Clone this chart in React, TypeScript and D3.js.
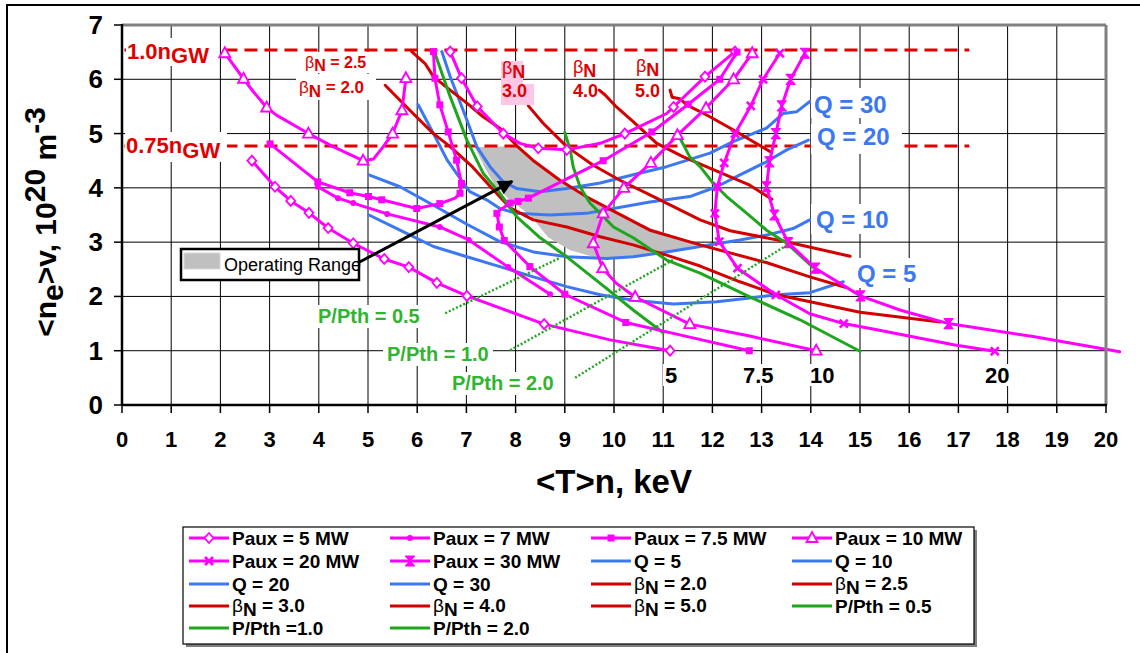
import React from "react";
import * as d3 from "d3";

type Pt = number[]; // [<T>n keV, <ne> 1e20 m^-3, marker flag]

// ---------- axes ----------
const xTickValues: number[] = d3.range(0, 21);
const yTickValues: number[] = d3.range(0, 8);

// ---------- auxiliary power contours (Paux, MW) ----------
const paux5Low: Pt[] = [
  [2.64, 4.5, 1], [3.11, 4.02, 1], [3.43, 3.76, 1], [3.8, 3.54, 1], [4.19, 3.26, 1],
  [4.7, 2.98, 1], [5.33, 2.69, 1], [5.83, 2.54, 1], [6.4, 2.25, 1], [7.01, 2.01, 1],
  [8.58, 1.49, 1], [9.92, 1.2], [11.14, 1.0, 1],
];
const paux5High: Pt[] = [
  [6.67, 6.51, 1], [6.9, 6.02, 1], [7.22, 5.5, 1], [7.75, 5.0, 1], [8.09, 4.82],
  [8.46, 4.73, 1], [9.04, 4.7, 1], [9.72, 4.82], [10.22, 5.0, 1], [11.07, 5.37],
  [11.21, 5.49, 1], [11.85, 6.05, 1], [12.46, 6.51, 1],
];
const paux7: Pt[] = [
  [3.98, 4.02, 1], [4.39, 3.81, 1], [4.7, 3.72, 1], [5.39, 3.52, 1], [6.46, 3.28, 1],
  [7.05, 3.04, 1], [7.85, 2.54, 1], [8.7, 2.04, 1],
];
const paux75Left: Pt[] = [
  [3.01, 4.81, 1], [3.98, 4.11, 1], [4.63, 3.91, 1], [5.01, 3.84, 1], [5.28, 3.78, 1],
  [5.99, 3.62, 1], [6.46, 3.71, 1], [6.77, 3.81], [6.87, 3.9, 1], [6.9, 4.08, 1],
  [6.8, 4.51, 1], [6.63, 5.03, 1], [6.46, 5.53, 1], [6.36, 6.02, 1], [6.33, 6.51, 1],
];
const paux75Right: Pt[] = [
  [12.5, 6.5, 1], [12.15, 6.0, 1], [11.51, 5.54, 1], [10.77, 5.03, 1], [9.78, 4.5, 1],
  [8.26, 3.81, 1], [8.05, 3.75, 1], [7.89, 3.72, 1], [7.68, 3.59], [7.62, 3.53, 1],
  [7.67, 3.28, 1], [7.77, 3.03, 1], [8.29, 2.55, 1], [9.0, 2.04, 1], [10.24, 1.52, 1],
  [11.54, 1.25], [12.75, 1.0, 1],
];
const paux10Left: Pt[] = [
  [2.09, 6.48, 1], [2.47, 6.01, 1], [2.67, 5.77], [2.94, 5.48, 1], [3.14, 5.34],
  [3.79, 5.0, 1], [4.29, 4.76], [4.9, 4.5, 1], [5.11, 4.53], [5.31, 4.76],
  [5.5, 5.0, 1], [5.69, 5.43, 1], [5.77, 6.02, 1],
];
const paux10Right: Pt[] = [
  [12.81, 6.48, 1], [12.43, 6.0, 1], [11.87, 5.47, 1], [11.29, 4.97, 1], [10.75, 4.46, 1],
  [10.2, 4.0, 1], [9.78, 3.53, 1], [9.58, 2.98, 1], [9.77, 2.52, 1], [10.05, 2.24],
  [10.43, 1.99, 1], [11.54, 1.49, 1], [12.76, 1.27], [14.11, 1.0, 1],
];
const paux20: Pt[] = [
  [13.37, 6.48, 1], [13.03, 6.0, 1], [12.78, 5.51, 1], [12.46, 5.0, 1], [12.24, 4.46, 1],
  [12.1, 4.02, 1], [12.05, 3.53, 1], [12.14, 3.01, 1], [12.51, 2.52, 1], [13.29, 2.03, 1],
  [13.98, 1.68], [14.67, 1.5, 1], [15.37, 1.38], [16.9, 1.11], [17.74, 0.99, 1],
];
const paux30: Pt[] = [
  [13.88, 6.48, 1], [13.59, 6.0, 1], [13.41, 5.51, 1], [13.29, 5.0, 1], [13.16, 4.48, 1],
  [13.1, 4.02, 1], [13.26, 3.5, 1], [13.54, 2.99, 1], [14.09, 2.52, 1], [15.01, 2.01, 1],
  [15.81, 1.75], [16.8, 1.5, 1], [18.52, 1.26], [20.28, 0.98],
];

// ---------- fusion gain contours ----------
const q5: Pt[] = [
  [5.02, 3.5], [5.65, 3.22], [6.33, 2.92], [7.01, 2.73], [7.68, 2.55], [8.36, 2.36],
  [9.04, 2.18], [9.72, 2.03], [10.39, 1.93], [11.21, 1.86], [12.09, 1.9], [12.76, 1.97],
  [13.31, 2.03], [13.98, 2.07], [14.66, 2.27],
];
const q10: Pt[] = [
  [5.02, 4.24], [5.65, 4.02], [6.33, 3.68], [7.01, 3.33], [7.68, 3.01], [8.36, 2.82],
  [9.04, 2.73], [9.85, 2.7], [10.39, 2.73], [11.07, 2.82], [11.75, 2.92], [12.15, 2.98],
  [12.56, 3.04], [13.1, 3.13], [13.64, 3.25], [13.98, 3.41],
];
const q20: Pt[] = [
  [6.02, 5.53], [6.33, 5.0], [6.61, 4.51], [6.9, 4.14], [7.07, 3.93], [7.41, 3.78],
  [7.68, 3.62], [8.02, 3.53], [8.7, 3.5], [9.44, 3.53], [9.99, 3.62], [10.73, 3.74],
  [11.54, 3.84], [12.09, 4.02], [12.56, 4.24], [13.1, 4.48], [13.51, 4.7], [13.95, 4.88],
];
const q30: Pt[] = [
  [6.5, 6.51], [6.67, 6.05], [7.01, 5.25], [7.21, 4.76], [7.48, 4.39], [7.75, 4.11],
  [8.02, 3.99], [8.5, 3.93], [9.04, 3.99], [9.72, 4.09], [10.39, 4.24], [11.07, 4.39],
  [11.95, 4.64], [12.42, 4.85], [13.1, 5.1], [13.44, 5.37], [13.71, 5.4], [13.98, 5.59],
];

// ---------- normalised beta contours ----------
const beta20: Pt[] = [
  [5.35, 5.89], [5.85, 5.43], [6.33, 5.0], [6.67, 4.76], [7.13, 4.38], [7.48, 4.03],
  [7.89, 3.63], [8.36, 3.41], [9.04, 3.28], [9.72, 3.1], [10.39, 2.95], [11.07, 2.76],
  [11.75, 2.56], [12.56, 2.27], [13.31, 2.03], [15.0, 1.71], [16.63, 1.53],
];
const beta25: Pt[] = [
  [5.89, 6.51], [6.16, 6.29], [6.33, 6.05], [6.67, 5.8], [7.01, 5.56], [7.34, 5.31],
  [7.68, 5.1], [8.03, 4.77], [8.35, 4.51], [8.9, 4.14], [9.45, 3.83], [10.06, 3.54],
  [10.73, 3.22], [11.75, 2.95], [13.11, 2.62], [13.98, 2.36], [14.7, 2.17],
];
const beta30: Pt[] = [
  [8.26, 5.51], [8.56, 5.19], [9.04, 4.76], [9.57, 4.42], [10.12, 4.14], [10.73, 3.87],
  [11.75, 3.41], [12.36, 3.21], [13.43, 3.02], [14.8, 2.74],
];
const beta40: Pt[] = [
  [9.7, 5.8], [9.82, 5.71], [10.05, 5.49], [10.39, 5.22], [10.87, 4.82], [11.41, 4.57],
  [12.09, 4.31], [12.76, 4.05], [13.21, 3.79],
];
const beta50: Pt[] = [
  [11.14, 5.8], [11.18, 5.67], [11.34, 5.64], [11.48, 5.53], [11.95, 5.31], [12.42, 5.07],
  [13.17, 4.67],
];

// ---------- power over L-H threshold ----------
const pPth05: Pt[] = [
  [6.36, 6.48], [6.67, 5.68], [7.01, 4.88], [7.34, 4.27], [7.68, 3.9], [8.02, 3.47],
  [8.5, 3.08], [9.04, 2.73], [9.72, 2.24], [10.39, 1.75], [11.0, 1.33],
];
const pPth10: Pt[] = [
  [9.0, 5.02], [9.11, 4.7], [9.17, 4.39], [9.31, 4.02], [9.51, 3.72], [9.72, 3.53],
  [9.99, 3.28], [10.39, 3.08], [11.07, 2.67], [11.75, 2.43], [12.76, 1.99], [13.78, 1.57],
  [15.0, 0.99],
];
const pPth20: Pt[] = [
  [11.31, 4.97], [11.54, 4.57], [11.75, 4.39], [12.02, 4.08], [12.29, 3.84], [12.7, 3.53],
  [13.1, 3.22], [13.51, 2.98], [14.04, 2.54],
];
// leaders from the P/Pth labels to their curves
const pPth05Leader: Pt[] = [[6.57, 1.69], [8.9, 2.71]];
const pPth10Leader: Pt[] = [[7.89, 1.01], [11.2, 2.67]];
const pPth20Leader: Pt[] = [[9.21, 0.5], [13.52, 2.95]];

// ---------- operating window ----------
const operatingRange: Pt[] = [
  [7.17, 4.75], [8.03, 4.77], [8.35, 4.51], [8.9, 4.14], [9.45, 3.83], [10.06, 3.53],
  [10.73, 3.26], [11.75, 2.96], [11.0, 2.8], [10.26, 2.71], [9.65, 2.71], [9.11, 2.85],
  [8.66, 3.09], [8.29, 3.5], [7.89, 3.77], [7.58, 4.05], [7.38, 4.36],
];
const arrowTail: Pt = [4.8, 2.62];
const arrowHead: Pt = [7.93, 4.12];

// ---------- Greenwald density limits ----------
const greenwaldDensity: number[] = [6.54, 4.77];
const greenwaldSpan: number[] = [0.05, 17.22];

const FONT = "'Liberation Sans', Arial, Helvetica, sans-serif";
const MAGENTA = "#ff00ff";
const BLUE = "#3c78f2";
const RED = "#d20000";
const LABEL_RED = "#e00000";
const GREEN = "#1fa61f";
const LABEL_GREEN = "#2fb52f";

type Series = {
  name: string;
  beta?: string;
  color: string;
  marker?: string;
  segments: Pt[][];
};

const series: Series[] = [
  { name: "Paux = 5 MW", color: MAGENTA, marker: "diamond", segments: [paux5Low, paux5High] },
  { name: "Paux = 7 MW", color: MAGENTA, marker: "circle", segments: [paux7] },
  { name: "Paux = 7.5 MW", color: MAGENTA, marker: "square", segments: [paux75Left, paux75Right] },
  { name: "Paux = 10 MW", color: MAGENTA, marker: "triangle", segments: [paux10Left, paux10Right] },
  { name: "Paux = 20 MW", color: MAGENTA, marker: "cross", segments: [paux20] },
  { name: "Paux = 30 MW", color: MAGENTA, marker: "star", segments: [paux30] },
  { name: "Q = 5", color: BLUE, segments: [q5] },
  { name: "Q = 10", color: BLUE, segments: [q10] },
  { name: "Q = 20", color: BLUE, segments: [q20] },
  { name: "Q = 30", color: BLUE, segments: [q30] },
  { name: "", beta: "2.0", color: RED, segments: [beta20] },
  { name: "", beta: "2.5", color: RED, segments: [beta25] },
  { name: "", beta: "3.0", color: RED, segments: [beta30] },
  { name: "", beta: "4.0", color: RED, segments: [beta40] },
  { name: "", beta: "5.0", color: RED, segments: [beta50] },
  { name: "P/Pth = 0.5", color: GREEN, segments: [pPth05] },
  { name: "P/Pth =1.0", color: GREEN, segments: [pPth10] },
  { name: "P/Pth = 2.0", color: GREEN, segments: [pPth20] },
];

function markerShape(kind: string, cx: number, cy: number, color: string, key: string) {
  switch (kind) {
    case "diamond":
      return (
        <path key={key} d={`M${cx},${cy - 5}L${cx + 4.5},${cy}L${cx},${cy + 5}L${cx - 4.5},${cy}Z`}
          fill="#fff" stroke={color} strokeWidth={1.8} />
      );
    case "circle":
      return <circle key={key} cx={cx} cy={cy} r={3} fill={color} />;
    case "square":
      return <rect key={key} x={cx - 3.5} y={cy - 3.5} width={7} height={7} fill={color} />;
    case "triangle":
      return (
        <path key={key} d={`M${cx},${cy - 6}L${cx + 5.5},${cy + 4}L${cx - 5.5},${cy + 4}Z`}
          fill="#fff" stroke={color} strokeWidth={1.8} />
      );
    case "cross":
      return (
        <path key={key} d={`M${cx - 4},${cy - 4}L${cx + 4},${cy + 4}M${cx - 4},${cy + 4}L${cx + 4},${cy - 4}`}
          stroke={color} strokeWidth={2.6} fill="none" />
      );
    case "star":
      return (
        <path key={key} d={`M${cx - 4.5},${cy - 5}L${cx + 4.5},${cy - 5}L${cx - 4.5},${cy + 5}L${cx + 4.5},${cy + 5}Z`}
          fill={color} stroke={color} strokeWidth={1.2} strokeLinejoin="round" />
      );
    default:
      return null;
  }
}

function BetaText(props: { x: number; y: number; value: string; size: number; color: string; sub?: number }) {
  const { x, y, value, size, color } = props;
  const sub = props.sub ?? 6;
  return (
    <text x={x} y={y} fontSize={size} fill={color} fontWeight="bold">
      <tspan fontWeight="normal">β</tspan>
      <tspan dy={sub}>N</tspan>
      <tspan dy={-sub}>{` = ${value}`}</tspan>
    </text>
  );
}

export default function App() {
  const x = d3.scaleLinear().domain([0, 20]).range([122, 1106]);
  const y = d3.scaleLinear().domain([0, 7]).range([405, 25]);
  const line = d3.line<Pt>().x((d) => x(d[0])).y((d) => y(d[1]));

  const legendCols = [189, 390, 591, 792];
  const legendRows = [538, 561, 584, 606, 628];

  return (
    <div style={{ position: "absolute", left: 0, top: 0 }}>
      <svg width={1140} height={653} fontFamily={FONT} style={{ display: "block", background: "#fff" }}>
        <defs>
          <marker id="arrowhead" viewBox="0 0 10 10" refX={9} refY={5} markerWidth={6} markerHeight={5}
            orient="auto" markerUnits="strokeWidth">
            <path d="M0,0L10,5L0,10Z" fill="#000" />
          </marker>
        </defs>
        <rect x={0} y={0} width={1140} height={653} fill="#fff" />
        {/* chart frame */}
        <path d="M7,653L7,5L1140,5" fill="none" stroke="#000" strokeWidth={2} />

        {/* grid */}
        <g stroke="#000" strokeWidth={1}>
          {xTickValues.map((t) => (
            <line key={`gx${t}`} x1={x(t)} x2={x(t)} y1={y(7)} y2={y(0)} />
          ))}
          {yTickValues.map((t) => (
            <line key={`gy${t}`} x1={x(0)} x2={x(20)} y1={y(t)} y2={y(t)} />
          ))}
        </g>

        {/* operating window */}
        <path d={line(operatingRange) + "Z"} fill="#c0c0c0" stroke="none" />

        {/* Greenwald limits */}
        {greenwaldDensity.map((n, i) => (
          <line key={`gw${i}`} x1={x(greenwaldSpan[0])} x2={x(greenwaldSpan[1])} y1={y(n)} y2={y(n)}
            stroke="#e00000" strokeWidth={3} strokeDasharray="13,7" />
        ))}

        {/* contour curves: Q, beta, P/Pth first, Paux on top */}
        {[...series.slice(6), ...series.slice(0, 6)].map((s, si) => (
          <g key={`s${si}`}>
            {s.segments.map((seg, gi) => (
              <path key={`p${gi}`} d={line(seg) || ""} fill="none" stroke={s.color} strokeWidth={3}
                strokeLinejoin="round" strokeLinecap="round" />
            ))}
            {s.marker &&
              s.segments.map((seg, gi) =>
                seg.filter((d) => d[2] === 1).map((d, k) => markerShape(s.marker as string, x(d[0]), y(d[1]), s.color, `m${gi}-${k}`))
              )}
          </g>
        ))}

        {/* leaders for P/Pth labels */}
        {[pPth05Leader, pPth10Leader, pPth20Leader].map((l, i) => (
          <path key={`ld${i}`} d={line(l) || ""} stroke={GREEN} strokeWidth={2.4} strokeDasharray="2,2" fill="none" />
        ))}

        {/* Greenwald labels */}
        <rect x={126} y={38} width={92} height={28} fill="#fff" />
        <text x={127} y={59} fontSize={22} fontWeight="bold" fill={LABEL_RED}>
          1.0n<tspan dy={4}>GW</tspan>
        </text>
        <rect x={125} y={132} width={102} height={30} fill="#fff" />
        <text x={126} y={153} fontSize={22} fontWeight="bold" fill={LABEL_RED}>
          0.75n<tspan dy={5}>GW</tspan>
        </text>

        {/* beta labels */}
        <rect x={302} y={52} width={74} height={21} fill="#fff" />
        <BetaText x={305} y={68} value="2.5" size={16} color={LABEL_RED} sub={3} />
        <rect x={296} y={74} width={80} height={26} fill="#fff" />
        <BetaText x={299} y={93} value="2.0" size={17} color={LABEL_RED} sub={4} />

        <rect x={501} y={61} width={22} height={23} fill="#ffc6e6" />
        <rect x={501} y={84} width={33} height={21} fill="#ffc6e6" />
        {[
          { bx: 502, by: 74, vx: 502, vy: 97, v: "3.0" },
          { bx: 573, by: 73, vx: 573, vy: 97, v: "4.0" },
          { bx: 636, by: 72, vx: 635, vy: 97, v: "5.0" },
        ].map((b) => (
          <g key={b.v} fill={LABEL_RED} fontSize={18} fontWeight="bold">
            <text x={b.bx} y={b.by}>
              <tspan fontWeight="normal">β</tspan>
              <tspan dy={4}>N</tspan>
            </text>
            <text x={b.vx} y={b.vy}>{b.v}</text>
          </g>
        ))}

        {/* Q labels */}
        {[
          { t: "Q = 30", x: 814, y: 113, rx: 811, ry: 88, rw: 82 },
          { t: "Q = 20", x: 817, y: 145, rx: 811, ry: 124, rw: 91 },
          { t: "Q = 10", x: 816, y: 228, rx: 811, ry: 204, rw: 84 },
          { t: "Q = 5", x: 857, y: 282, rx: 852, ry: 258, rw: 70 },
        ].map((q) => (
          <g key={q.t}>
            <rect x={q.rx} y={q.ry} width={q.rw} height={30} fill="#fff" />
            <text x={q.x} y={q.y} fontSize={24} fontWeight="bold" fill={BLUE}>{q.t}</text>
          </g>
        ))}

        {/* P/Pth labels */}
        {[
          { t: "P/Pth = 0.5", x: 318, y: 323 },
          { t: "P/Pth = 1.0", x: 387, y: 361 },
          { t: "P/Pth = 2.0", x: 452, y: 390 },
        ].map((p) => (
          <g key={p.t}>
            <rect x={p.x - 4} y={p.y - 18} width={110} height={23} fill="#fff" />
            <text x={p.x} y={p.y} fontSize={20} fontWeight="bold" fill={LABEL_GREEN}>{p.t}</text>
          </g>
        ))}

        {/* Paux value labels */}
        {[
          { t: "5", x: 665 },
          { t: "7.5", x: 743 },
          { t: "10", x: 810 },
          { t: "20", x: 985 },
        ].map((p) => (
          <g key={p.t}>
            <rect x={p.x - 2} y={364} width={p.t.length * 12 + 6} height={22} fill="#fff" />
            <text x={p.x} y={383} fontSize={22} fontWeight="bold" fill="#000">{p.t}</text>
          </g>
        ))}

        {/* operating range pointer */}
        <line x1={x(arrowTail[0])} y1={y(arrowTail[1])} x2={x(arrowHead[0])} y2={y(arrowHead[1])}
          stroke="#000" strokeWidth={3} markerEnd="url(#arrowhead)" />
        <rect x={181} y={249} width={178} height={31} fill="#fff" stroke="#000" strokeWidth={2.5} />
        <rect x={184} y={253} width={36} height={16} fill="#c0c0c0" stroke="#d8d8d8" strokeWidth={1} />
        <text x={224} y={271} fontSize={18} fill="#000">Operating Range</text>

        {/* plot border and axes */}
        <line x1={x(0)} x2={x(20)} y1={y(7)} y2={y(7)} stroke="#808080" strokeWidth={3} />
        <line x1={x(20)} x2={x(20)} y1={y(7)} y2={y(0)} stroke="#808080" strokeWidth={3} />
        <line x1={x(0)} x2={x(0)} y1={y(7) - 1} y2={y(0)} stroke="#000" strokeWidth={2.5} />
        <line x1={x(0)} x2={x(20) + 1} y1={y(0)} y2={y(0)} stroke="#000" strokeWidth={2.5} />
        {xTickValues.map((t) => (
          <line key={`xt${t}`} x1={x(t)} x2={x(t)} y1={y(0)} y2={y(0) + 8} stroke="#000" strokeWidth={1.5} />
        ))}
        {yTickValues.map((t) => (
          <line key={`yt${t}`} x1={x(0) - 8} x2={x(0)} y1={y(t)} y2={y(t)} stroke="#000" strokeWidth={1.5} />
        ))}
        {xTickValues.map((t) => (
          <text key={`xl${t}`} x={x(t)} y={447} textAnchor="middle" fontSize={22} fontWeight="bold">{t}</text>
        ))}
        {yTickValues.map((t) => (
          <text key={`yl${t}`} x={103} y={y(t) + 9} textAnchor="end" fontSize={26} fontWeight="bold">{t}</text>
        ))}
        <text x={614} y={493} textAnchor="middle" fontSize={33} fontWeight="bold">{"<T>n, keV"}</text>
        <text transform="translate(56,222) rotate(-90)" textAnchor="middle" fontSize={30} fontWeight="bold">
          {"<n"}
          <tspan dy={7}>e</tspan>
          <tspan dy={-7}>{">v, 10"}</tspan>
          <tspan dy={-11}>20</tspan>
          <tspan dy={11}> m</tspan>
          <tspan dy={-11}>-3</tspan>
        </text>

        {/* legend */}
        <rect x={186} y={530} width={791} height={117} fill="#808080" />
        <rect x={183} y={527} width={791} height={117} fill="#fff" stroke="#000" strokeWidth={1.2} />
        {series.map((s, i) => {
          const cx = legendCols[i % 4];
          const cy = legendRows[Math.floor(i / 4)];
          return (
            <g key={`lg${i}`}>
              <line x1={cx} x2={cx + 40} y1={cy} y2={cy} stroke={s.color} strokeWidth={3} />
              {s.marker && markerShape(s.marker, cx + 20, cy, s.color, "lm")}
              {s.beta ? (
                <BetaText x={cx + 43} y={cy + 6} value={s.beta} size={19} color="#000" sub={4} />
              ) : (
                <text x={cx + 43} y={cy + 7} fontSize={19} fontWeight="bold">{s.name}</text>
              )}
            </g>
          );
        })}
      </svg>
    </div>
  );
}
